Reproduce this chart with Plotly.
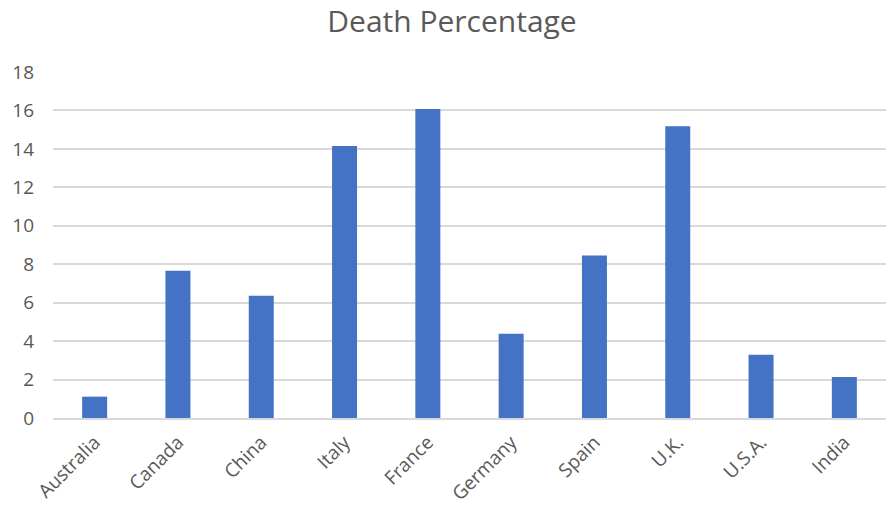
import plotly.graph_objects as go

# Death percentage by country
countries = ["Australia", "Canada", "China", "Italy", "France",
             "Germany", "Spain", "U.K.", "U.S.A.", "India"]
death_pct = [1.11, 7.66, 6.36, 14.15, 16.08, 4.38, 8.45, 15.18, 3.29, 2.13]

y_ticks = [0, 2, 4, 6, 8, 10, 12, 14, 16, 18]

fig = go.Figure(
    go.Bar(
        x=countries,
        y=death_pct,
        marker=dict(color="#4472C4", line=dict(width=0)),
        width=0.3,
    )
)

fig.update_layout(
    width=889,
    height=510,
    margin=dict(l=53, r=3, t=72, b=92),
    paper_bgcolor="white",
    plot_bgcolor="white",
    showlegend=False,
    font=dict(family="Open Sans", color="#595959"),
    title=dict(
        text="Death Percentage",
        x=452 / 889,
        xanchor="center",
        y=1 - 21 / 510,
        yanchor="middle",
        font=dict(family="Open Sans", size=30, color="#595959"),
    ),
)

fig.update_xaxes(
    tickangle=-45,
    tickfont=dict(size=19, color="#595959"),
    showgrid=False,
    showline=True,
    linecolor="#d9d9d9",
    linewidth=1.5,
    ticks="",
    ticklabelstandoff=4,
    automargin=False,
)

fig.update_yaxes(
    range=[0, 18],
    tickvals=y_ticks,
    tickfont=dict(size=19, color="#595959"),
    showgrid=True,
    gridcolor="#d9d9d9",
    gridwidth=1.5,
    zeroline=False,
    showline=False,
    ticks="",
    ticklabelstandoff=18,
    automargin=False,
)

fig.write_html("out.html")
